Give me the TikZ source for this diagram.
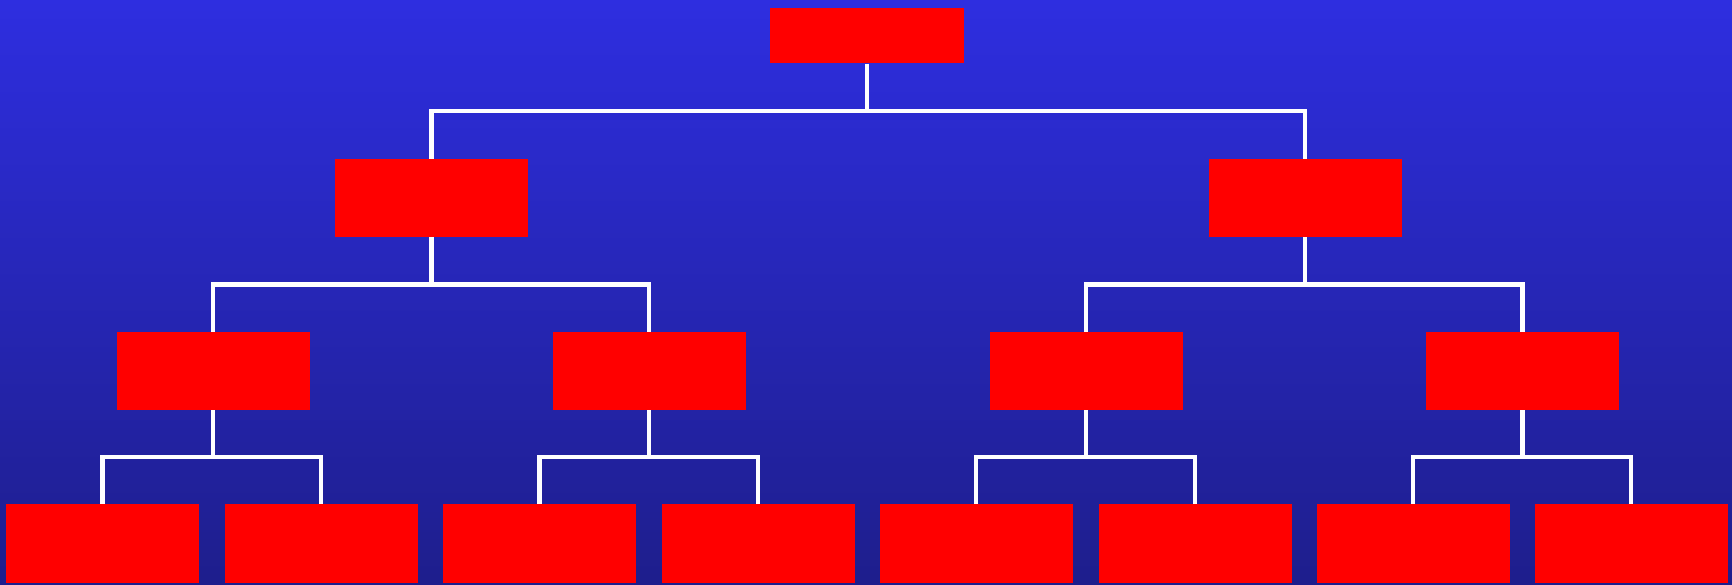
\documentclass[tikz,border=0pt]{standalone}
\begin{document}
\begin{tikzpicture}[x=1pt,y=-1pt,
  box/.style={fill=red,draw=none,inner sep=0pt,minimum width=193pt,minimum height=78pt},
  link/.style={draw=white,line width=4.6pt}]
\definecolor{bgtop}{RGB}{46,46,224}
\definecolor{bgbot}{RGB}{30,30,140}
\shade[top color=bgtop,bottom color=bgbot] (0,0) rectangle (1732,584);
\useasboundingbox (0,0) rectangle (1732,584);
% nodes
\node[box,minimum width=194pt,minimum height=55.5pt] (t) at (867,35.6) {};
\node[box] (a) at (431.5,198) {};
\node[box] (b) at (1305,198) {};
\node[box] (a1) at (213,371) {};
\node[box] (a2) at (649,371) {};
\node[box] (b1) at (1086,371) {};
\node[box] (b2) at (1522.5,371) {};
\node[box,minimum height=79pt] (l1) at (102.7,543.5) {};
\node[box,minimum height=79pt] (l2) at (321,543.5) {};
\node[box,minimum height=79pt] (l3) at (539.5,543.5) {};
\node[box,minimum height=79pt] (l4) at (758,543.5) {};
\node[box,minimum height=79pt] (l5) at (976,543.5) {};
\node[box,minimum height=79pt] (l6) at (1195,543.5) {};
\node[box,minimum height=79pt] (l7) at (1413,543.5) {};
\node[box,minimum height=79pt] (l8) at (1631,543.5) {};
% bus junctions
\coordinate (j0) at (867,111);
\coordinate (ja) at (431.5,284.5);
\coordinate (jb) at (1305,284.5);
\coordinate (ja1) at (213,457);
\coordinate (ja2) at (649,457);
\coordinate (jb1) at (1086,457);
\coordinate (jb2) at (1522.5,457);
% connectors
\draw[link] (t.south) -- (j0);
\draw[link] (a.north) |- (j0) -| (b.north);
\draw[link] (a.south) -- (ja);
\draw[link] (a1.north) |- (ja) -| (a2.north);
\draw[link] (b.south) -- (jb);
\draw[link] (b1.north) |- (jb) -| (b2.north);
\draw[link] (a1.south) -- (ja1);
\draw[link] (l1.north) |- (ja1) -| (l2.north);
\draw[link] (a2.south) -- (ja2);
\draw[link] (l3.north) |- (ja2) -| (l4.north);
\draw[link] (b1.south) -- (jb1);
\draw[link] (l5.north) |- (jb1) -| (l6.north);
\draw[link] (b2.south) -- (jb2);
\draw[link] (l7.north) |- (jb2) -| (l8.north);
\end{tikzpicture}
\end{document}
